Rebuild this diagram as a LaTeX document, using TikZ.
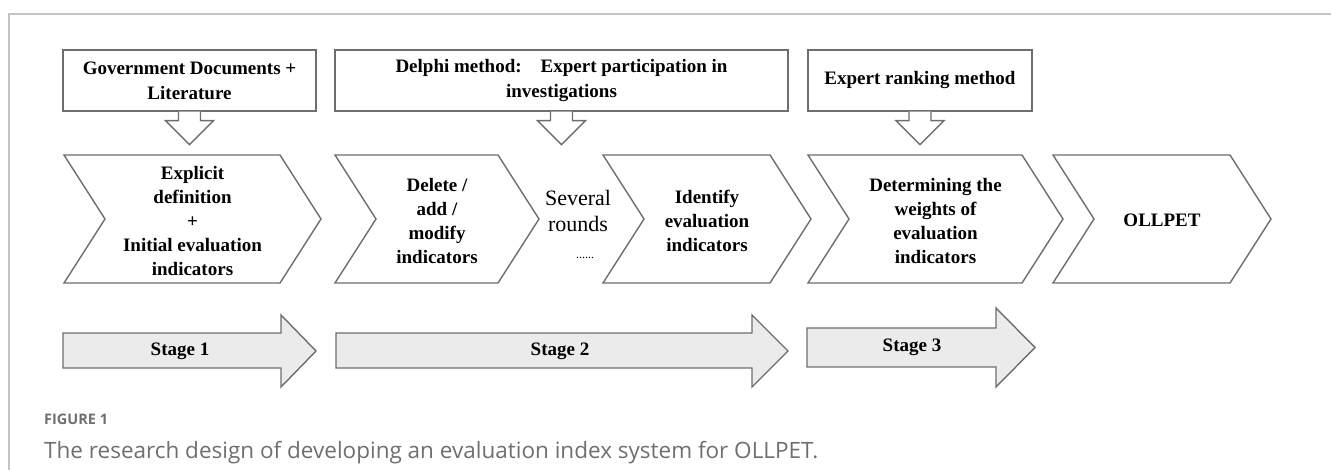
\documentclass[tikz,border=0pt]{standalone}
\usepackage{fontspec}
\setmainfont{Liberation Serif}
\newfontfamily\capfont{Open Sans}
\usepackage{xcolor}
\usepackage{tikz}
\usetikzlibrary{positioning}

\definecolor{edgegray}{HTML}{6E6E6E}
\definecolor{stagefill}{HTML}{EBEBEB}
\definecolor{framegray}{HTML}{C4C4C4}
\definecolor{capgray}{HTML}{6F6F6F}

\begin{document}
\begin{tikzpicture}[x=1pt, y=-1pt,
  box/.style={draw=edgegray, line width=1.4pt, fill=white, minimum height=61pt, align=center, inner sep=2pt, font=\fontsize{19}{25}\selectfont\bfseries},
  steptext/.style={align=center, inner sep=0pt, font=\fontsize{19}{24}\selectfont\bfseries},
  chevron/.style={draw=edgegray, line width=1.4pt, fill=white, line join=miter},
  hollow/.style={draw=edgegray, line width=1.4pt, fill=white},
  stagearrow/.style={draw=edgegray, line width=1.4pt, fill=stagefill},
  stagetext/.style={font=\fontsize{19}{24}\selectfont\bfseries}
]
\useasboundingbox (0,0) rectangle (1331,470);

% FRAME
\draw[framegray, line width=2pt] (9,470) -- (9,14) -- (1331,14);

% SOURCE BOXES
\node[box, minimum width=253pt] (gov) at (189.5,80.5) {Government Documents +\\Literature};
\node[box, minimum width=453pt] (delphi) at (561.5,80.5) {Delphi method:\quad Expert participation in\\investigations};
\node[box, minimum width=224pt] (rank) at (920,80.5) {Expert ranking method};

\foreach \b in {gov, delphi, rank}
  \draw[hollow] ([xshift=-11pt]\b.south) -- ++(0,9) -- ++(-13,0) -- ++(24,24) -- ++(24,-24) -- ++(-13,0) -- ++(0,-9);

% PROCESS CHEVRONS
\foreach \l/\r in {64/280, 335/498, 603/770, 808/1022, 1053/1230}
  \draw[chevron] (\l,155) -- (\r,155) -- (\r+41,219) -- (\r,283) -- (\l,283) -- (\l+41,219) -- cycle;

\node[steptext] (define) at (192.5,221) {Explicit\\definition\\+\\Initial evaluation\\indicators};
\node[steptext] (modify) at (437,221) {Delete /\\add /\\modify\\indicators};
\node[align=center, inner sep=0pt, font=\fontsize{22}{26.5}\selectfont] (rounds) at (578,224) {Several\\rounds\\{\fontsize{12}{14}\selectfont\hspace*{14pt}......}};
\node[steptext] (identify) at (707,221) {Identify\\evaluation\\indicators};
\node[steptext] (weights) at (935.5,221) {Determining the\\weights of\\evaluation\\indicators};
\node[steptext] (ollpet) at (1162,220) {OLLPET};

% STAGES
\draw[stagearrow] (63,333) -- (281,333) -- (281,315) -- (316,351) -- (281,387) -- (281,368) -- (63,368) -- cycle;
\draw[stagearrow] (336,333) -- (752,333) -- (752,315) -- (788,351) -- (752,387) -- (752,368) -- (336,368) -- cycle;
\draw[stagearrow] (807,328) -- (996,328) -- (996,308) -- (1035,347.5) -- (996,387) -- (996,367) -- (807,367) -- cycle;

\node[stagetext] (s1) at (180,351) {Stage 1};
\node[stagetext] (s2) at (560,351) {Stage 2};
\node[stagetext] (s3) at (912,347.5) {Stage 3};

% CAPTION
\node[anchor=base west, inner sep=0pt, text=capgray, font=\capfont\fontsize{14.5}{16}\selectfont\bfseries] (fig) at (44,424) {FIGURE 1};
\node[anchor=base west, inner sep=0pt, text=capgray, font=\capfont\fontsize{22.5}{26}\selectfont] (cap) at (44,458) {The research design of developing an evaluation index system for OLLPET.};

\end{tikzpicture}
\end{document}
